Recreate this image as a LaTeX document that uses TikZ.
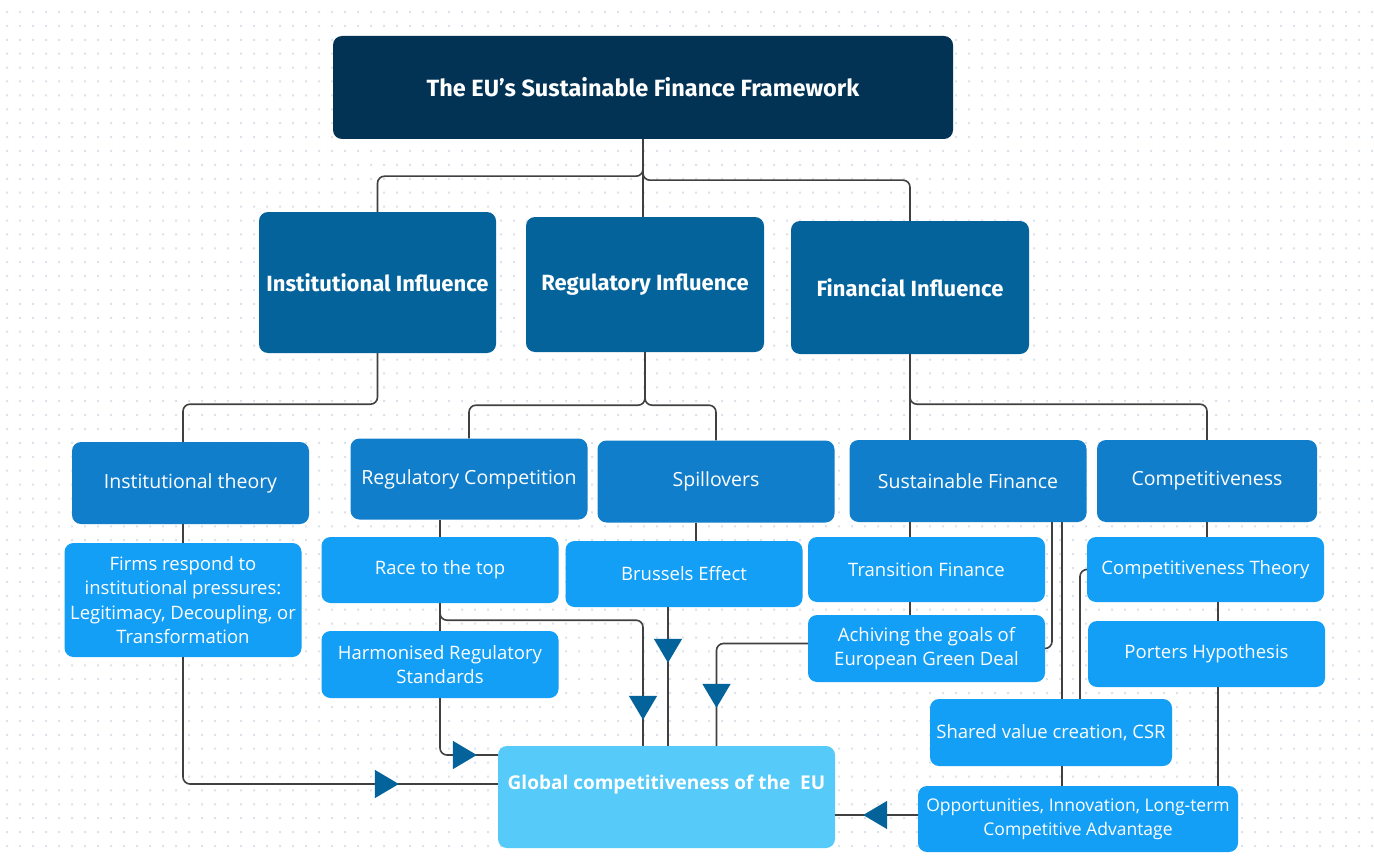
\documentclass[tikz,border=0pt]{standalone}
\usepackage{fontspec}
\setmainfont{Open Sans}
\newfontfamily\headfont{Fira Sans}
\usepackage{tikz}
\usetikzlibrary{arrows.meta,decorations.markings}

\definecolor{navy}{HTML}{023354}
\definecolor{midblue}{HTML}{04639B}
\definecolor{topicblue}{HTML}{117ECC}
\definecolor{leafblue}{HTML}{139FF5}
\definecolor{goalblue}{HTML}{56CBF9}
\definecolor{dotgray}{HTML}{DCE2E9}

\tikzset{
  box/.style={rectangle,rounded corners=9pt,inner sep=0pt,text=white,align=center,minimum width=237pt},
  titlebox/.style={box,fill=navy,font=\headfont\bfseries\fontsize{23.5}{28}\selectfont},
  inflbox/.style={box,fill=midblue,font=\headfont\bfseries\fontsize{22}{26}\selectfont},
  topicbox/.style={box,fill=topicblue,minimum height=82pt,font=\fontsize{19.5}{24.5}\selectfont},
  leafbox/.style={box,fill=leafblue,minimum height=66pt,font=\fontsize{18.5}{24.5}\selectfont},
  goalbox/.style={box,fill=goalblue,font=\bfseries\fontsize{19}{24.5}\selectfont},
  link/.style={draw=black!75,line width=1.6pt,rounded corners=7pt},
  midarrow/.style={postaction={decorate},decoration={markings,
    mark=at position #1 with {\arrow[midblue]{Triangle[length=24pt,width=28pt]}}}},
}

\begin{document}
\begin{tikzpicture}[x=1pt,y=-1pt]
  \useasboundingbox (0,0) rectangle (1374,856);
  \fill[white] (0,0) rectangle (1374,856);
  \foreach \j in {0,...,60}
    \fill[dotgray] foreach \i in {0,...,105} {(6+13*\i,11+13.9*\j) rectangle ++(2,2)};

  % framework and its three channels
  \node[titlebox,minimum width=620pt,minimum height=103pt] (top) at (643,87.5) {The EU’s Sustainable Finance Framework};
  \node[inflbox,minimum height=141pt] (inst) at (377.5,282.5) {Institutional Influence};
  \node[inflbox,minimum width=238pt,minimum height=135pt] (reg) at (645,284.5) {Regulatory Influence};
  \node[inflbox,minimum width=238pt,minimum height=133pt] (fin) at (910,287.5) {Financial Influence};

  \node[topicbox] (insttheory) at (190.5,483) {Institutional theory};
  \node[topicbox,minimum height=81pt] (regcomp) at (469,479) {Regulatory Competition};
  \node[topicbox] (spill) at (716,481.5) {Spillovers};
  \node[topicbox] (susfin) at (968,481) {Sustainable Finance};
  \node[topicbox,minimum width=220pt] (compet) at (1207,481) {Competitiveness};

  \node[leafbox,minimum height=114pt] (firms) at (183,600) {Firms respond to\\institutional pressures:\\Legitimacy, Decoupling, or\\Transformation};
  \node[leafbox] (race) at (440,570) {Race to the top};
  \node[leafbox,minimum height=67pt] (harm) at (440,664.5) {Harmonised Regulatory\\Standards};
  \node[leafbox] (brussels) at (684,574) {Brussels Effect};
  \node[leafbox,minimum height=65pt] (transfin) at (926.5,569.5) {Transition Finance};
  \node[leafbox,minimum height=67pt] (greendeal) at (926.5,648.5) {Achiving the goals of\\European Green Deal};
  \node[leafbox,minimum height=65pt] (comptheory) at (1205.5,569.5) {Competitiveness Theory};
  \node[leafbox] (porter) at (1206.5,654) {Porters Hypothesis};
  \node[leafbox,minimum width=242pt,minimum height=67pt] (shared) at (1051,732.5) {Shared value creation, CSR};
  \node[leafbox,minimum width=320pt,font=\fontsize{17.5}{24.5}\selectfont] (opport) at (1078,819) {Opportunities, Innovation, Long-term\\Competitive Advantage};
  \node[goalbox,minimum width=337pt,minimum height=102pt,text height=14pt,text depth=29pt] (global) at (666.5,797) {Global competitiveness of the\ \ EU};

  % tree links
  \draw[link] (top.south) -- ++(0,37) -| (inst.north);
  \draw[link] (top.south) -- ++(0,41) -| (fin.north);
  \draw[link] (top.south) -- (top.south |- reg.north);
  \draw[link] (inst.south) -- ++(0,51) -| (insttheory.north -| firms.north);
  \draw[link] (reg.south) -- ++(0,53) -| (regcomp.north);
  \draw[link] (reg.south) -- ++(0,53) -| (spill.north);
  \draw[link] (fin.south) -- ++(0,50) -| (compet.north);
  \draw[link] (fin.south) -- (susfin.north -| fin.south);
  \draw[link] (insttheory.south -| firms.north) -- (firms.north);
  \draw[link] (regcomp.south -| race.north) -- (race.north);
  \draw[link] (race.south) -- (harm.north);
  \draw[link] ([xshift=-20pt]spill.south) -- ([xshift=-20pt]spill.south |- brussels.north);
  \draw[link] (susfin.south -| fin.south) -- (transfin.north -| fin.south);
  \draw[link] (transfin.south -| fin.south) -- (greendeal.north -| fin.south);
  \draw[link] ([xshift=84pt]susfin.south) |- (greendeal.east);
  \draw[link] ([xshift=94pt]susfin.south) -- ([xshift=11pt]shared.north);
  \draw[link] (comptheory.west) -| ([xshift=29pt]shared.north);
  \draw[link] (compet.south) -- (compet.south |- comptheory.north);
  \draw[link] ([xshift=12.5pt]comptheory.south) -- ([xshift=11.5pt]porter.north);
  \draw[link] ([xshift=11.5pt]porter.south) -- ([xshift=140pt]opport.north);
  \draw[link] ([xshift=11pt]shared.south) -- ([xshift=-16pt]opport.north);

  % flows into the goal
  \draw[link,midarrow=-99pt] (firms.south) |- ([yshift=13pt]global.west);
  \draw[link,midarrow=-21pt] (harm.south) |- ([yshift=42pt]global.west);
  \draw[link,midarrow=-26pt] (race.south) -- ++(0,17) -| ([xshift=-23.5pt]global.north);
  \draw[link,midarrow=-83pt] ([xshift=1.5pt]global.north |- brussels.south) -- ([xshift=1.5pt]global.north);
  \draw[link,midarrow=-38pt] ([yshift=5pt]greendeal.west) -| ([xshift=50pt]global.north);
  \draw[link,midarrow=-28pt] ([yshift=4pt]opport.west) -- ([yshift=-18pt]global.east);
\end{tikzpicture}
\end{document}
